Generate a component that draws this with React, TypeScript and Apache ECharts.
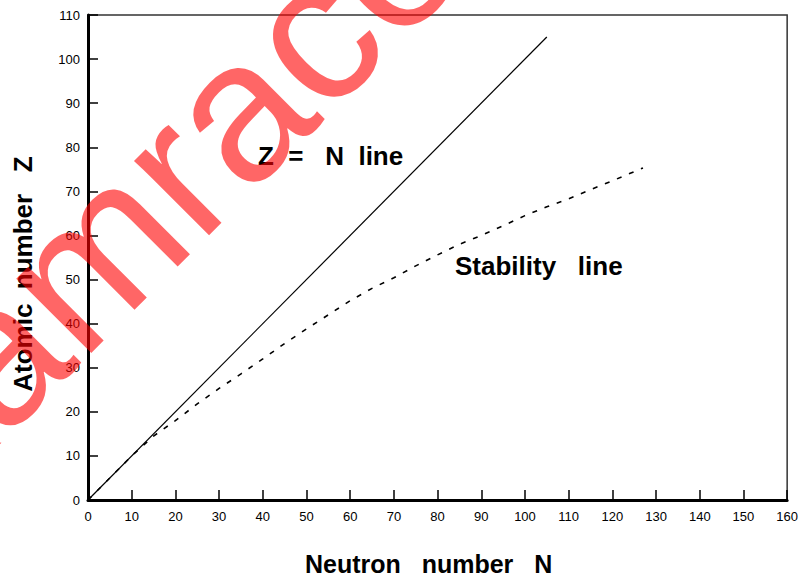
import React, { useEffect, useRef } from "react";
import * as echarts from "echarts";

const xTicks = [0, 10, 20, 30, 40, 50, 60, 70, 80, 90, 100, 110, 120, 130, 140, 150, 160];
const yTicks = [0, 10, 20, 30, 40, 50, 60, 70, 80, 90, 100, 110];

const zEqualsN_N = [0, 105];
const zEqualsN_Z = [0, 105];

const stabilityN = [0, 5, 10, 15, 20, 25, 30, 35, 40, 45, 50, 55, 60, 65, 70, 75, 80, 85, 90, 95, 100, 105, 110, 115, 120, 127];
const stabilityZ = [0, 5, 10, 14.5, 18, 21.8, 25.3, 28.6, 32, 35.5, 38.8, 42, 45.2, 48, 50.4, 53.1, 55.6, 58, 60, 62.2, 64.5, 66.5, 68.3, 70.4, 72.4, 75.3];

const xAxisTitle = "Neutron   number   N";
const yAxisTitle = "Atomic  number   Z";
const zLineLabel = "Z  =   N  line";
const stabilityLabel = "Stability   line";
const watermark = "Examrace";

export default function App() {
  const ref = useRef<HTMLDivElement>(null);
  useEffect(() => {
    if (!ref.current) return;
    const chart = echarts.init(ref.current, null, { renderer: "svg" });
    const font = "'Liberation Sans', Arial, sans-serif";
    chart.setOption({
      animation: false,
      backgroundColor: "#ffffff",
      grid: {
        left: 88,
        right: 9,
        top: 15,
        bottom: 77,
        show: true,
        borderColor: "#333",
        borderWidth: 1.5,
        backgroundColor: "transparent",
      },
      xAxis: {
        type: "value",
        min: xTicks[0],
        max: xTicks[xTicks.length - 1],
        interval: 10,
        axisLine: { show: true, onZero: false, lineStyle: { color: "#000", width: 3 } },
        axisTick: { show: true, inside: true, length: 10, lineStyle: { color: "#000", width: 1.5 } },
        axisLabel: { color: "#000", fontSize: 13, fontFamily: font, margin: 10 },
        splitLine: { show: false },
      },
      yAxis: {
        type: "value",
        min: yTicks[0],
        max: yTicks[yTicks.length - 1],
        interval: 10,
        axisLine: { show: true, onZero: false, lineStyle: { color: "#000", width: 3 } },
        axisTick: { show: true, inside: true, length: 10, lineStyle: { color: "#000", width: 1.5 } },
        axisLabel: { color: "#000", fontSize: 13, fontFamily: font, margin: 8 },
        splitLine: { show: false },
      },
      series: [
        {
          type: "line",
          name: "Z = N line",
          data: zEqualsN_N.map((n, i) => [n, zEqualsN_Z[i]]),
          symbol: "none",
          lineStyle: { color: "#000", width: 1.2 },
          z: 3,
        },
        {
          type: "line",
          name: "Stability line",
          data: stabilityN.map((n, i) => [n, stabilityZ[i]]),
          symbol: "none",
          lineStyle: { color: "#000", width: 1.6, type: [5, 8] },
          z: 3,
        },
      ],
      graphic: [
        {
          type: "text",
          left: 258,
          top: 143,
          style: { text: zLineLabel, fill: "#000", font: `bold 26px ${font}` },
          z: 5,
        },
        {
          type: "text",
          left: 455,
          top: 253,
          style: { text: stabilityLabel, fill: "#000", font: `bold 26px ${font}` },
          z: 5,
        },
        {
          type: "text",
          x: 305,
          y: 564,
          style: {
            text: xAxisTitle,
            fill: "#000",
            font: `bold 25px ${font}`,
            align: "left",
            verticalAlign: "middle",
          },
          z: 5,
        },
        {
          type: "text",
          x: 23,
          y: 274,
          rotation: Math.PI / 2,
          style: {
            text: yAxisTitle,
            fill: "#000",
            font: `bold 26px ${font}`,
            align: "center",
            verticalAlign: "middle",
          },
          z: 5,
        },
        {
          type: "text",
          x: 107,
          y: 239,
          rotation: (45 * Math.PI) / 180,
          style: {
            text: watermark,
            fill: "rgba(255,0,0,0.6)",
            font: `200px ${font}`,
            align: "center",
            verticalAlign: "middle",
          },
          z: 10,
        },
      ],
    });
    return () => chart.dispose();
  }, []);
  return <div ref={ref} style={{ width: 801, height: 577, position: "absolute", left: 0, top: 0 }} />;
}
